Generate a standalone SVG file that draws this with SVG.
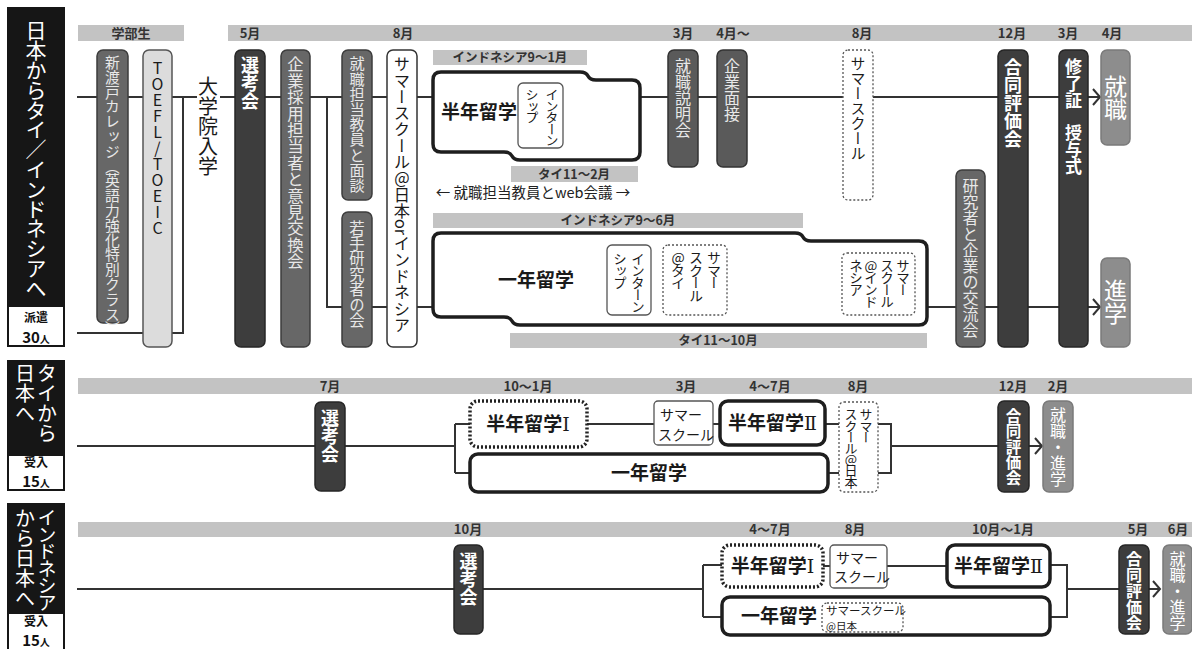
<svg xmlns="http://www.w3.org/2000/svg" width="1192" height="649" viewBox="0 0 1192 649">
<style>
text { font-family: "Noto Sans CJK JP", "Noto Sans", sans-serif; }
.v { writing-mode: vertical-rl; }
.up { text-orientation: upright; }
.b { font-weight: 700; }
.ln { stroke: #333; stroke-width: 2; fill: none; }
.bar { fill: #c3c3c3; }
.mo { font-size: 13px; font-weight: 700; fill: #333; text-anchor: middle; }
.bl { font-size: 12.5px; font-weight: 700; fill: #333; text-anchor: middle; }
.dk { fill: #3d3d3d; stroke: #262626; stroke-width: 1.5; }
.md { fill: #676767; stroke: #3d3d3d; stroke-width: 1.5; }
.md2 { fill: #5a5a5a; stroke: #333; stroke-width: 1.5; }
.lt { fill: #8d8d8d; stroke: #7a7a7a; stroke-width: 1.5; }
.thick { fill: #fff; stroke: #1e1e1e; stroke-width: 3.5; }
.dot { fill: #fff; stroke: #222; stroke-width: 3.5; stroke-dasharray: 2 2; }
.thin { fill: #fff; stroke: #555; stroke-width: 1.3; }
.dash { fill: #fff; stroke: #555; stroke-width: 1.3; stroke-dasharray: 2 2; }
.wt { fill: #fff; }
.lg { fill: #e8e8e8; }
.bk { fill: #1a1a1a; }
.big { font-size: 19px; font-weight: 700; fill: #1a1a1a; }
.hd1 { font-weight: 700; fill: #111; text-anchor: middle; }
</style>

<!-- headers -->
<g id="header1">
  <rect x="7" y="7" width="58" height="340" fill="#161616"/>
  <rect x="9" y="307" width="54" height="38" fill="#fff"/>
  <text class="v wt" x="36" y="20" font-size="21" letter-spacing="-1.2">日本からタイ／インドネシアへ</text>
  <text class="hd1" x="36" y="322" font-size="12">派遣</text>
  <text class="hd1" x="36" y="342.5"><tspan font-size="15">30</tspan><tspan font-size="10">人</tspan></text>
</g>
<g id="header2">
  <rect x="7" y="360" width="58" height="131" fill="#161616"/>
  <rect x="9" y="456" width="54" height="33" fill="#fff"/>
  <text class="v wt" x="47" y="363" font-size="20">タイから</text>
  <text class="v wt" x="25" y="363" font-size="20">日本へ</text>
  <text class="hd1" x="36" y="467" font-size="12">受入</text>
  <text class="hd1" x="36" y="487"><tspan font-size="15">15</tspan><tspan font-size="10">人</tspan></text>
</g>
<g id="header3">
  <rect x="7" y="503" width="58" height="146" fill="#161616"/>
  <rect x="9" y="614" width="54" height="35" fill="#fff"/>
  <text class="v wt" x="47" y="508" font-size="19" letter-spacing="-2">インドネシア</text>
  <text class="v wt" x="25" y="508" font-size="20">から日本へ</text>
  <text class="hd1" x="36" y="626" font-size="12">受入</text>
  <text class="hd1" x="36" y="646"><tspan font-size="15">15</tspan><tspan font-size="10">人</tspan></text>
</g>

<!-- month bars -->
<g id="bars">
  <rect class="bar" x="78" y="25" width="106" height="16"/>
  <rect class="bar" x="228" y="25" width="964" height="16"/>
  <text class="mo" x="131" y="38">学部生</text>
  <text class="mo" x="250" y="38">5月</text>
  <text class="mo" x="403" y="38">8月</text>
  <text class="mo" x="683" y="38">3月</text>
  <text class="mo" x="733" y="38">4月〜</text>
  <text class="mo" x="862" y="38">8月</text>
  <text class="mo" x="1012" y="38">12月</text>
  <text class="mo" x="1068" y="38">3月</text>
  <text class="mo" x="1112" y="38">4月</text>

  <rect class="bar" x="78" y="378" width="1114" height="16"/>
  <text class="mo" x="330" y="391">7月</text>
  <text class="mo" x="528" y="391">10〜1月</text>
  <text class="mo" x="686" y="391">3月</text>
  <text class="mo" x="770" y="391">4〜7月</text>
  <text class="mo" x="858" y="391">8月</text>
  <text class="mo" x="1013" y="391">12月</text>
  <text class="mo" x="1058" y="391">2月</text>

  <rect class="bar" x="78" y="522" width="1114" height="15"/>
  <text class="mo" x="468" y="534">10月</text>
  <text class="mo" x="770" y="534">4〜7月</text>
  <text class="mo" x="855" y="534">8月</text>
  <text class="mo" x="1003" y="534">10月〜1月</text>
  <text class="mo" x="1138" y="534">5月</text>
  <text class="mo" x="1178" y="534">6月</text>

  <rect class="bar" x="433" y="50" width="154" height="15"/>
  <text class="bl" x="510" y="62">インドネシア9〜1月</text>
  <rect class="bar" x="511" y="166" width="127" height="16"/>
  <text class="bl" x="574" y="179">タイ11〜2月</text>
  <rect class="bar" x="433" y="213" width="370" height="15"/>
  <text class="bl" x="618" y="225">インドネシア9〜6月</text>
  <rect class="bar" x="510" y="333" width="417" height="15"/>
  <text class="bl" x="718" y="345">タイ11〜10月</text>
  <text x="533" y="198" font-size="14.5" text-anchor="middle" fill="#222">← 就職担当教員とweb会議 →</text>
</g>

<!-- connectors -->
<g id="connectors" class="ln">
  <path d="M77 97 H197 M220 97 H1100"/>
  <path d="M183 97 V333 H77"/>
  <path d="M327 97 V307 H1100"/>
  <path d="M1093 89 L1100 97 L1093 105 M1093 299 L1100 307 L1093 315"/>

  <path d="M77 446 H455 M455 424 V473 M455 424 H470 M455 473 H470 M587 424 H654 M713 424 H720 M825 424 H839 M828 473 H839 M878 424 H891 V473 H878 M891 446 H1042"/>
  <path d="M1035 438 L1042 446 L1035 454"/>

  <path d="M77 589 H703 M703 565 V617 M703 565 H722 M703 617 H722 M823 566 H830 M887 566 H947 M1050 565 H1067 V617 H1050 M1067 589 H1160"/>
  <path d="M1153 581 L1160 589 L1153 597"/>
</g>

<!-- section 1 nodes -->
<g id="nitobe">
  <rect class="md" x="97" y="50" width="31" height="273" rx="6"/>
  <text class="v lg" x="112.5" y="55" font-size="14.8">新渡戸カレッジ（英語力強化特別クラス）</text>
</g>
<g id="toefl">
  <rect x="143" y="50" width="29" height="297" rx="6" fill="#dcdcdc" stroke="#555" stroke-width="1.5"/>
  <text class="v up bk" x="157.5" y="60" font-size="16">TOEFL/TOEIC</text>
</g>
<g id="nyugaku">
  <text class="v bk" x="208" y="76" font-size="20">大学院入学</text>
</g>
<g id="senkou1">
  <rect class="dk" x="235" y="50" width="30" height="297" rx="6"/>
  <text class="v wt b" x="250" y="56" font-size="18">選考会</text>
</g>
<g id="kigyou">
  <rect class="md" x="281" y="50" width="29" height="297" rx="6"/>
  <text class="v lg" x="295.5" y="56" font-size="16.4">企業採用担当者と意見交換会</text>
</g>
<g id="mendan">
  <rect class="md" x="342" y="50" width="30" height="150" rx="6"/>
  <text class="v lg" x="357" y="56" font-size="15.2">就職担当教員と面談</text>
</g>
<g id="wakate">
  <rect class="md" x="342" y="212" width="30" height="135" rx="6"/>
  <text class="v lg" x="357" y="220" font-size="15.4">若手研究者の会</text>
</g>
<g id="summer1">
  <rect x="387" y="50" width="30" height="297" rx="6" fill="#fff" stroke="#333" stroke-width="1.5"/>
  <text class="v bk" x="402" y="56" font-size="16.3">サマースクール<tspan class="up">@</tspan>日本orインドネシア</text>
</g>
<g id="hantoshi1">
  <path class="thick" d="M441 72 H580 Q586 72 588 76 Q590 80 596 80 H632 Q640 80 640 88 V152 Q640 160 632 160 H520 Q514 160 512 156 Q510 152 504 152 H441 Q433 152 433 144 V80 Q433 72 441 72 Z"/>
  <text class="big" x="441" y="119" font-size="18">半年留学</text>
  <rect class="thin" x="518" y="83" width="45" height="65" rx="5" stroke="#777"/>
  <text class="v bk" x="552" y="88" font-size="13" letter-spacing="-1.5">インターン</text>
  <text class="v bk" x="532" y="88" font-size="13" letter-spacing="-1.5">シップ</text>
</g>
<g id="ichinen1">
  <path class="thick" d="M441 233 H795 Q801 233 803 237 Q805 241 811 241 H919 Q927 241 927 249 V317 Q927 325 919 325 H520 Q514 325 512 321 Q510 317 504 317 H441 Q433 317 433 309 V241 Q433 233 441 233 Z"/>
  <text class="big" x="498" y="287">一年留学</text>
  <rect class="thin" x="607" y="245" width="44" height="70" rx="5" stroke="#777"/>
  <text class="v bk" x="638" y="252" font-size="13.5" letter-spacing="-1.5">インターン</text>
  <text class="v bk" x="620" y="252" font-size="13.5" letter-spacing="-1.5">シップ</text>
  <rect class="dash" x="663" y="245" width="64" height="70" rx="5"/>
  <text class="v bk" x="714" y="251" font-size="14" letter-spacing="-1.5">サマー</text>
  <text class="v bk" x="696" y="251" font-size="14" letter-spacing="-1.5">スクール</text>
  <text class="v bk" x="678" y="251" font-size="14" letter-spacing="-1.5"><tspan class="up">@</tspan>タイ</text>
  <rect class="dash" x="842" y="253" width="73" height="62" rx="5"/>
  <text class="v bk" x="903" y="259" font-size="13.5" letter-spacing="-1.5">サマー</text>
  <text class="v bk" x="887" y="259" font-size="13.5" letter-spacing="-1.5">スクール</text>
  <text class="v bk" x="871" y="259" font-size="13.5" letter-spacing="-1.5"><tspan class="up">@</tspan>インド</text>
  <text class="v bk" x="856" y="259" font-size="13.5" letter-spacing="-1.5">ネシア</text>
</g>
<g id="setsumeikai">
  <rect class="md2" x="668" y="50" width="30" height="117" rx="6"/>
  <text class="v lg" x="683" y="58" font-size="16">就職説明会</text>
</g>
<g id="mensetsu">
  <rect class="md2" x="717" y="50" width="30" height="117" rx="6"/>
  <text class="v lg" x="732" y="58" font-size="16">企業面接</text>
</g>
<g id="summer2">
  <rect class="dash" x="843" y="50" width="30" height="150" rx="5"/>
  <text class="v bk" x="858" y="56" font-size="15">サマースクール</text>
</g>
<g id="kouryuu">
  <rect class="md" x="956" y="170" width="29" height="177" rx="6"/>
  <text class="v lg" x="970.5" y="178" font-size="16">研究者と企業の交流会</text>
</g>
<g id="goudou1">
  <rect class="dk" x="998" y="50" width="30" height="297" rx="6"/>
  <text class="v wt b" x="1013" y="58" font-size="18">合同評価会</text>
</g>
<g id="shuuryou">
  <rect class="dk" x="1059" y="50" width="29" height="297" rx="6"/>
  <text class="v wt b" x="1073.5" y="58" font-size="17">修了証</text>
  <text class="v wt b" x="1073.5" y="124" font-size="17">授与式</text>
</g>
<g id="shuushoku1">
  <rect class="lt" x="1101" y="50" width="29" height="95" rx="6"/>
  <text class="v wt" x="1115.5" y="75" font-size="23">就職</text>
</g>
<g id="shingaku1">
  <rect class="lt" x="1101" y="258" width="29" height="89" rx="6"/>
  <text class="v wt" x="1115.5" y="279" font-size="23">進学</text>
</g>

<!-- section 2 nodes -->
<g id="senkou2">
  <rect class="dk" x="315" y="402" width="30" height="89" rx="6"/>
  <text class="v wt b" x="330" y="409" font-size="18">選考会</text>
</g>
<g id="hantoshi2a">
  <rect class="dot" x="470" y="401" width="117" height="46" rx="8"/>
  <text class="big" x="528" y="431" text-anchor="middle">半年留学<tspan font-family="DejaVu Serif" font-weight="400">Ⅰ</tspan></text>
</g>
<g id="summer3">
  <rect class="thin" x="654" y="401" width="59" height="44" rx="4"/>
  <text class="bk" font-size="14"><tspan x="660" y="420">サマー</tspan><tspan x="658" y="440">スクール</tspan></text>
</g>
<g id="hantoshi2b">
  <rect class="thick" x="720" y="401" width="105" height="44" rx="8"/>
  <text class="big" x="772.5" y="430" text-anchor="middle">半年留学<tspan font-family="DejaVu Serif" font-weight="400">Ⅱ</tspan></text>
</g>
<g id="summer4">
  <rect class="dash" x="839" y="402" width="39" height="90" rx="5"/>
  <text class="v bk" x="866" y="408" font-size="13" letter-spacing="-1.5">サマー</text>
  <text class="v bk" x="851" y="408" font-size="13" letter-spacing="-1.8">スクール<tspan class="up">@</tspan>日本</text>
</g>
<g id="ichinen2">
  <rect class="thick" x="470" y="454" width="358" height="38" rx="8"/>
  <text class="big" x="649" y="480" text-anchor="middle">一年留学</text>
</g>
<g id="goudou2">
  <rect class="dk" x="998" y="401" width="31" height="91" rx="6"/>
  <text class="v wt b" x="1013.5" y="408" font-size="15.5">合同評価会</text>
</g>
<g id="shuushoku2">
  <rect class="lt" x="1043" y="401" width="30" height="91" rx="6"/>
  <text class="v wt" x="1058" y="407" font-size="16">就職・進学</text>
</g>

<!-- section 3 nodes -->
<g id="senkou3">
  <rect class="dk" x="454" y="545" width="29" height="89" rx="6"/>
  <text class="v wt b" x="468.5" y="552" font-size="18">選考会</text>
</g>
<g id="hantoshi3a">
  <rect class="dot" x="722" y="545" width="101" height="42" rx="8"/>
  <text class="big" x="772.5" y="573" text-anchor="middle">半年留学<tspan font-family="DejaVu Serif" font-weight="400">Ⅰ</tspan></text>
</g>
<g id="summer5">
  <rect class="thin" x="830" y="545" width="57" height="43" rx="4"/>
  <text class="bk" font-size="14"><tspan x="836" y="563">サマー</tspan><tspan x="834" y="582">スクール</tspan></text>
</g>
<g id="hantoshi3b">
  <rect class="thick" x="947" y="545" width="103" height="42" rx="8"/>
  <text class="big" x="998.5" y="573" text-anchor="middle">半年留学<tspan font-family="DejaVu Serif" font-weight="400">Ⅱ</tspan></text>
</g>
<g id="ichinen3">
  <rect class="thick" x="722" y="597" width="328" height="38" rx="8"/>
  <text class="big" x="741" y="623">一年留学</text>
  <rect class="dash" x="822" y="603" width="81" height="29" rx="5"/>
  <text class="bk"><tspan x="826" y="615" font-size="11.5">サマースクール</tspan><tspan x="826" y="629.5" font-size="10.5">@日本</tspan></text>
</g>
<g id="goudou3">
  <rect class="dk" x="1119" y="545" width="30" height="89" rx="6"/>
  <text class="v wt b" x="1134" y="551" font-size="16">合同評価会</text>
</g>
<g id="shuushoku3">
  <rect class="lt" x="1163" y="545" width="29" height="89" rx="6"/>
  <text class="v wt" x="1177.5" y="551" font-size="16">就職・進学</text>
</g>
</svg>
